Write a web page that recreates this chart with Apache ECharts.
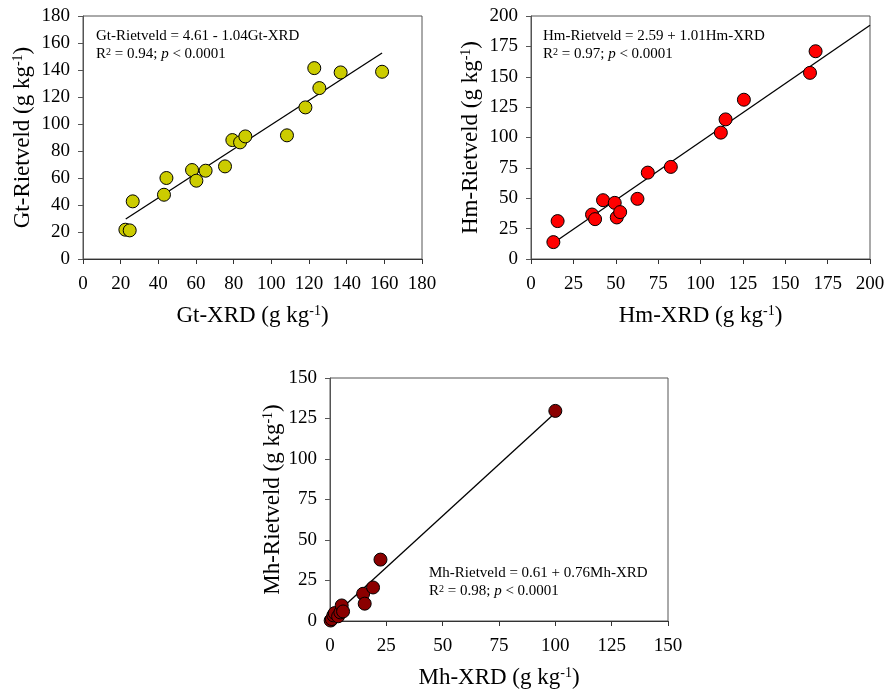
<!DOCTYPE html>
<html><head><meta charset="utf-8">
<script src="https://cdn.jsdelivr.net/npm/echarts@6/dist/echarts.min.js"></script>
<style>html,body{margin:0;padding:0;background:#fff}#c{width:888px;height:696px}</style>
</head><body><div id="c"></div>
<script>
// Goethite (Gt)
const gtXRD  = [22.5, 24.8, 26.4, 43.0, 44.3, 57.9, 60.2, 65.1, 75.4, 79.3, 83.4, 86.2, 108.3, 118.1, 122.8, 125.5, 136.8, 158.8];
const gtRiet = [21.7, 21.2, 42.7, 47.6, 60.0, 65.9, 58.0, 65.4, 68.6, 88.1, 86.4, 90.8, 91.6, 112.3, 141.4, 126.6, 138.2, 138.7];
const gtFitX = [22.7, 158.8];
const gtFitY = [29.6, 152.6];
// Hematite (Hm)
const hmXRD  = [13.2, 15.7, 36.0, 37.8, 42.5, 49.4, 50.6, 52.6, 62.8, 68.9, 82.5, 112.0, 114.8, 125.6, 164.6, 167.9];
const hmRiet = [13.9, 31.2, 36.6, 32.8, 48.4, 46.2, 34.2, 38.6, 49.5, 71.1, 75.8, 104.0, 114.9, 131.1, 153.2, 171.0];
const hmFitX = [13.2, 200];
const hmFitY = [13.1, 192.4];
// Maghemite (Mh)
const mhXRD  = [0.3, 0.8, 1.5, 2.1, 3.6, 4.6, 5.2, 5.8, 14.7, 15.4, 19.1, 22.4, 100.0];
const mhRiet = [0.3, 1.2, 3.5, 4.9, 2.9, 5.3, 9.6, 5.9, 16.8, 10.7, 20.7, 37.9, 129.7];
const mhFitX = [0, 100];
const mhFitY = [1.2, 128.5];

const gtTicks = [0, 180, 20];
const hmTicks = [0, 200, 25];
const mhTicks = [0, 150, 25];

const FONT = 'Liberation Serif';
const pairs = (xs, ys) => xs.map((x, i) => [x, ys[i]]);

const grids = [
  {left: 83, top: 16, width: 339, height: 243},
  {left: 531, top: 16, width: 339, height: 243},
  {left: 330, top: 378, width: 338, height: 243}
];
const ticks = [gtTicks, hmTicks, mhTicks];
const xNames = ['Gt-XRD', 'Hm-XRD', 'Mh-XRD'];
const yNames = ['Gt-Rietveld', 'Hm-Rietveld', 'Mh-Rietveld'];

const nameRich = {
  a: {fontFamily: FONT, fontSize: 23, color: '#000'},
  s: {fontFamily: FONT, fontSize: 14, color: '#000', verticalAlign: 'top', lineHeight: 23}
};

function mkX(i) {
  return {
    type: 'value', gridIndex: i, min: ticks[i][0], max: ticks[i][1], interval: ticks[i][2],
    name: '{a|' + xNames[i] + ' (g kg}{s|-1}{a|)}', nameLocation: 'middle', nameGap: 45,
    nameTextStyle: {rich: nameRich},
    axisLine: {show: true, lineStyle: {color: '#333', width: 1}},
    axisTick: {show: true, length: 5, lineStyle: {color: '#333'}},
    axisLabel: {fontFamily: FONT, fontSize: 19, color: '#000', margin: 16},
    splitLine: {show: false}
  };
}
function mkY(i) {
  return {
    type: 'value', gridIndex: i, min: ticks[i][0], max: ticks[i][1], interval: ticks[i][2],
    name: '{a|' + yNames[i] + ' (g kg}{s|-1}{a|)}', nameLocation: 'middle', nameRotate: 90,
    nameGap: i === 2 ? 46 : 49,
    nameTextStyle: {rich: nameRich},
    axisLine: {show: true, lineStyle: {color: '#555', width: 1}},
    axisTick: {show: true, length: 5, lineStyle: {color: '#555'}},
    axisLabel: {fontFamily: FONT, fontSize: 19, color: '#000', margin: 13},
    splitLine: {show: false}
  };
}

const colors = ['#cccc00', '#ff0000', '#8b0000'];
const data = [[gtXRD, gtRiet, gtFitX, gtFitY], [hmXRD, hmRiet, hmFitX, hmFitY], [mhXRD, mhRiet, mhFitX, mhFitY]];
const series = [];
data.forEach((d, i) => {
  series.push({
    type: 'line', xAxisIndex: i, yAxisIndex: i, data: pairs(d[2], d[3]),
    symbol: 'none', lineStyle: {color: '#000', width: 1.3}, silent: true, z: 2
  });
  series.push({
    type: 'scatter', xAxisIndex: i, yAxisIndex: i, data: pairs(d[0], d[1]),
    symbolSize: 13, itemStyle: {color: colors[i], borderColor: '#000', borderWidth: 1, opacity: 1}, z: 3
  });
});

const annRich = {
  a: {fontFamily: FONT, fontSize: 15, color: '#000'},
  i: {fontFamily: FONT, fontSize: 15, color: '#000', fontStyle: 'italic'},
  s: {fontFamily: FONT, fontSize: 10, color: '#000', verticalAlign: 'top', lineHeight: 15}
};
function ann(x, y, eq, r2) {
  return [
    {type: 'text', left: x, top: y, style: {text: '{a|' + eq + '}', rich: annRich}},
    {type: 'text', left: x, top: y + 18, style: {text: '{a|R}{s|2}{a| = ' + r2 + '; }{i|p}{a| < 0.0001}', rich: annRich}}
  ];
}

const chart = echarts.init(document.getElementById('c'), null, {renderer: 'canvas'});
chart.setOption({
  animation: false,
  grid: grids.map(g => Object.assign({show: true, borderColor: '#555', borderWidth: 1, backgroundColor: 'transparent'}, g)),
  xAxis: [0, 1, 2].map(mkX),
  yAxis: [0, 1, 2].map(mkY),
  series: series,
  graphic: [].concat(
    ann(96, 29, 'Gt-Rietveld = 4.61 - 1.04Gt-XRD', '0.94'),
    ann(543, 29, 'Hm-Rietveld = 2.59 + 1.01Hm-XRD', '0.97'),
    ann(429, 566, 'Mh-Rietveld = 0.61 + 0.76Mh-XRD', '0.98')
  )
});
</script></body></html>
